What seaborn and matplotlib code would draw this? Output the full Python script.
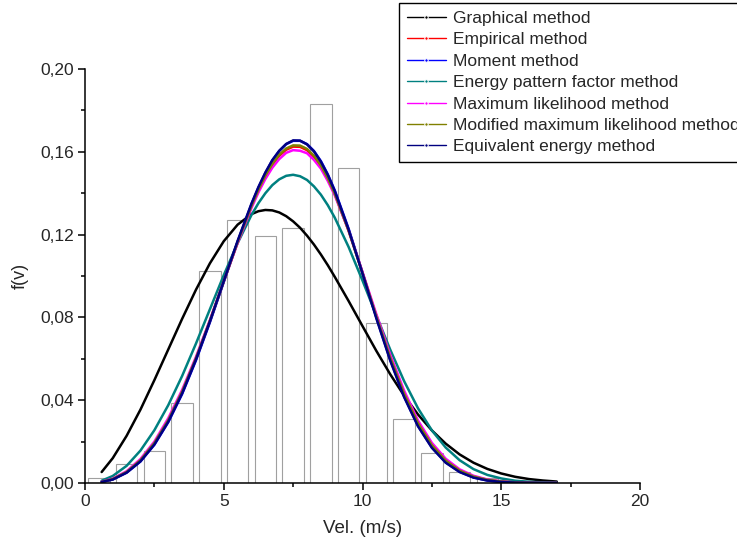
import numpy as np
import pandas as pd
import seaborn as sns
import matplotlib
matplotlib.use('Agg')
import matplotlib.pyplot as plt
from matplotlib.ticker import MultipleLocator

# observed frequency per 1 m/s class (lower bound of class)
class_lower = [0, 1, 2, 3, 4, 5, 6, 7, 8, 9, 10, 11, 12, 13, 14, 15]
class_freq = [0.0023, 0.0092, 0.0153, 0.0385, 0.1026, 0.1271, 0.1193, 0.1230,
              0.1829, 0.1523, 0.0774, 0.0308, 0.0143, 0.0052, 0.0025, 0.0008]

# wind speed points of the fitted curves
vel = [0.6, 1.0, 1.5, 2.0, 2.5, 3.0, 3.5, 4.0, 4.5, 5.0, 5.5, 6.0, 6.25, 6.5, 6.75, 7.0,
       7.25, 7.5, 7.75, 8.0, 8.25, 8.5, 8.75, 9.0, 9.5, 10.0, 10.5, 11.0, 11.5, 12.0,
       12.5, 13.0, 13.5, 14.0, 14.5, 15.0, 15.5, 16.0, 16.5, 17.0]

graphical = [0.0053, 0.0120, 0.0228, 0.0355, 0.0497, 0.0645, 0.0793, 0.0934, 0.1061,
             0.1168, 0.1248, 0.1299, 0.1313, 0.1319, 0.1317, 0.1307, 0.1289, 0.1264,
             0.1233, 0.1195, 0.1152, 0.1104, 0.1052, 0.0996, 0.0879, 0.0758, 0.0638,
             0.0525, 0.0422, 0.0331, 0.0254, 0.0190, 0.0138, 0.0098, 0.0068, 0.0046,
             0.0030, 0.0019, 0.0012, 0.0007]
empirical = [0.0005, 0.0019, 0.0053, 0.0110, 0.0193, 0.0303, 0.0440, 0.0602, 0.0783,
             0.0974, 0.1163, 0.1337, 0.1412, 0.1481, 0.1536, 0.1581, 0.1610, 0.1625,
             0.1624, 0.1608, 0.1576, 0.1530, 0.1468, 0.1396, 0.1219, 0.1016, 0.0806,
             0.0607, 0.0433, 0.0292, 0.0185, 0.0110, 0.0061, 0.0032, 0.0015, 0.0007,
             0.0003, 0.0001, 0.0000, 0.0000]
moment = [0.0005, 0.0017, 0.0050, 0.0104, 0.0185, 0.0294, 0.0430, 0.0593, 0.0776,
          0.0971, 0.1166, 0.1347, 0.1427, 0.1498, 0.1558, 0.1604, 0.1637, 0.1653,
          0.1653, 0.1637, 0.1604, 0.1555, 0.1491, 0.1414, 0.1228, 0.1016, 0.0799,
          0.0595, 0.0418, 0.0276, 0.0172, 0.0099, 0.0054, 0.0027, 0.0012, 0.0005,
          0.0002, 0.0001, 0.0000, 0.0000]
energy_pattern = [0.0011, 0.0034, 0.0083, 0.0157, 0.0255, 0.0376, 0.0517, 0.0674, 0.0839,
                  0.1004, 0.1159, 0.1295, 0.1352, 0.1400, 0.1439, 0.1467, 0.1484, 0.1489,
                  0.1482, 0.1464, 0.1433, 0.1393, 0.1342, 0.1282, 0.1140, 0.0978, 0.0809,
                  0.0644, 0.0492, 0.0361, 0.0254, 0.0171, 0.0110, 0.0067, 0.0039, 0.0022,
                  0.0011, 0.0006, 0.0003, 0.0001]
max_likelihood = [0.0006, 0.0021, 0.0057, 0.0116, 0.0200, 0.0313, 0.0450, 0.0610, 0.0787,
                  0.0975, 0.1159, 0.1329, 0.1404, 0.1469, 0.1523, 0.1565, 0.1595, 0.1608,
                  0.1605, 0.1593, 0.1561, 0.1519, 0.1459, 0.1390, 0.1219, 0.1019, 0.0815,
                  0.0619, 0.0446, 0.0302, 0.0194, 0.0117, 0.0066, 0.0035, 0.0017, 0.0008,
                  0.0003, 0.0001, 0.0000, 0.0000]
mod_max_likelihood = [0.0005, 0.0019, 0.0053, 0.0110, 0.0193, 0.0303, 0.0441, 0.0603, 0.0783,
                      0.0975, 0.1164, 0.1339, 0.1417, 0.1485, 0.1541, 0.1586, 0.1616, 0.1631,
                      0.1630, 0.1614, 0.1581, 0.1534, 0.1472, 0.1398, 0.1219, 0.1014, 0.0804,
                      0.0605, 0.0431, 0.0289, 0.0183, 0.0108, 0.0060, 0.0031, 0.0015, 0.0007,
                      0.0003, 0.0001, 0.0000, 0.0000]
equiv_energy = [0.0005, 0.0017, 0.0050, 0.0105, 0.0186, 0.0296, 0.0433, 0.0597, 0.0780,
                0.0975, 0.1170, 0.1350, 0.1430, 0.1500, 0.1560, 0.1605, 0.1638, 0.1655,
                0.1654, 0.1636, 0.1602, 0.1552, 0.1488, 0.1410, 0.1224, 0.1012, 0.0795,
                0.0591, 0.0415, 0.0274, 0.0170, 0.0098, 0.0053, 0.0026, 0.0012, 0.0005,
                0.0002, 0.0001, 0.0000, 0.0000]

methods = ['Graphical method', 'Empirical method', 'Moment method',
           'Energy pattern factor method', 'Maximum likelihood method',
           'Modified maximum likelihood method', 'Equivalent energy method']
series = [graphical, empirical, moment, energy_pattern, max_likelihood,
          mod_max_likelihood, equiv_energy]
colors = ['#000000', '#ff0000', '#0000ff', '#008080', '#ff00ff', '#808000', '#000080']

y_ticks = [0.0, 0.04, 0.08, 0.12, 0.16, 0.20]
y_tick_labels = ['0,00', '0,04', '0,08', '0,12', '0,16', '0,20']
x_ticks = [0, 5, 10, 15, 20]
x_tick_labels = ['0', '5', '10', '15', '20']

curves = pd.DataFrame({
    'vel': vel * len(methods),
    'f': [v for s in series for v in s],
    'method': [m for m in methods for _ in vel],
})

sns.set_style('ticks')
plt.rcParams['font.family'] = ['Liberation Sans', 'DejaVu Sans']

fig = plt.figure(figsize=(7.37, 5.49), dpi=100)
ax = fig.add_axes([85 / 737, 1 - 483 / 549, 555 / 737, 414 / 549])

centers = np.array(class_lower) + 0.5
edges = class_lower + [class_lower[-1] + 1]
sns.histplot(x=centers, weights=class_freq, bins=edges, shrink=0.78, color='white',
             edgecolor='#a0a0a0', linewidth=0.8, alpha=1, ax=ax)

sns.lineplot(data=curves, x='vel', y='f', hue='method', hue_order=methods,
             palette=colors, linewidth=1.8, ax=ax)

ax.set_xlim(0, 20)
ax.set_ylim(0, 0.2)
ax.set_xticks(x_ticks)
ax.set_xticklabels(x_tick_labels)
ax.set_yticks(y_ticks)
ax.set_yticklabels(y_tick_labels)
ax.xaxis.set_minor_locator(MultipleLocator(2.5))
ax.yaxis.set_minor_locator(MultipleLocator(0.02))
ax.tick_params(which='major', length=5, width=1.1, labelsize=12.5, color='black', pad=3)
ax.tick_params(which='minor', length=3, width=1.1, color='black')
for side in ['left', 'bottom']:
    ax.spines[side].set_linewidth(1.1)
    ax.spines[side].set_color('black')
sns.despine(ax=ax)

ax.set_xlabel('Vel. (m/s)', fontsize=13.5, labelpad=8)
ax.set_ylabel('f(v)', fontsize=13, labelpad=8)

handles, labels = ax.get_legend_handles_labels()
leg = ax.legend(handles, labels, loc='upper left', bbox_to_anchor=(399 / 737, 1 - 3 / 549),
                bbox_transform=fig.transFigure, fontsize=12.5, frameon=True, fancybox=False,
                edgecolor='black', framealpha=1, handlelength=2.25, handletextpad=0.4,
                labelspacing=0.36, borderaxespad=0, borderpad=0.45)
leg.get_frame().set_linewidth(1.0)
for line in leg.get_lines():
    line.set_linewidth(1.0)
    line.set_marker('o')
    line.set_markersize(2.5)

fig.savefig('out.png', dpi=100)
